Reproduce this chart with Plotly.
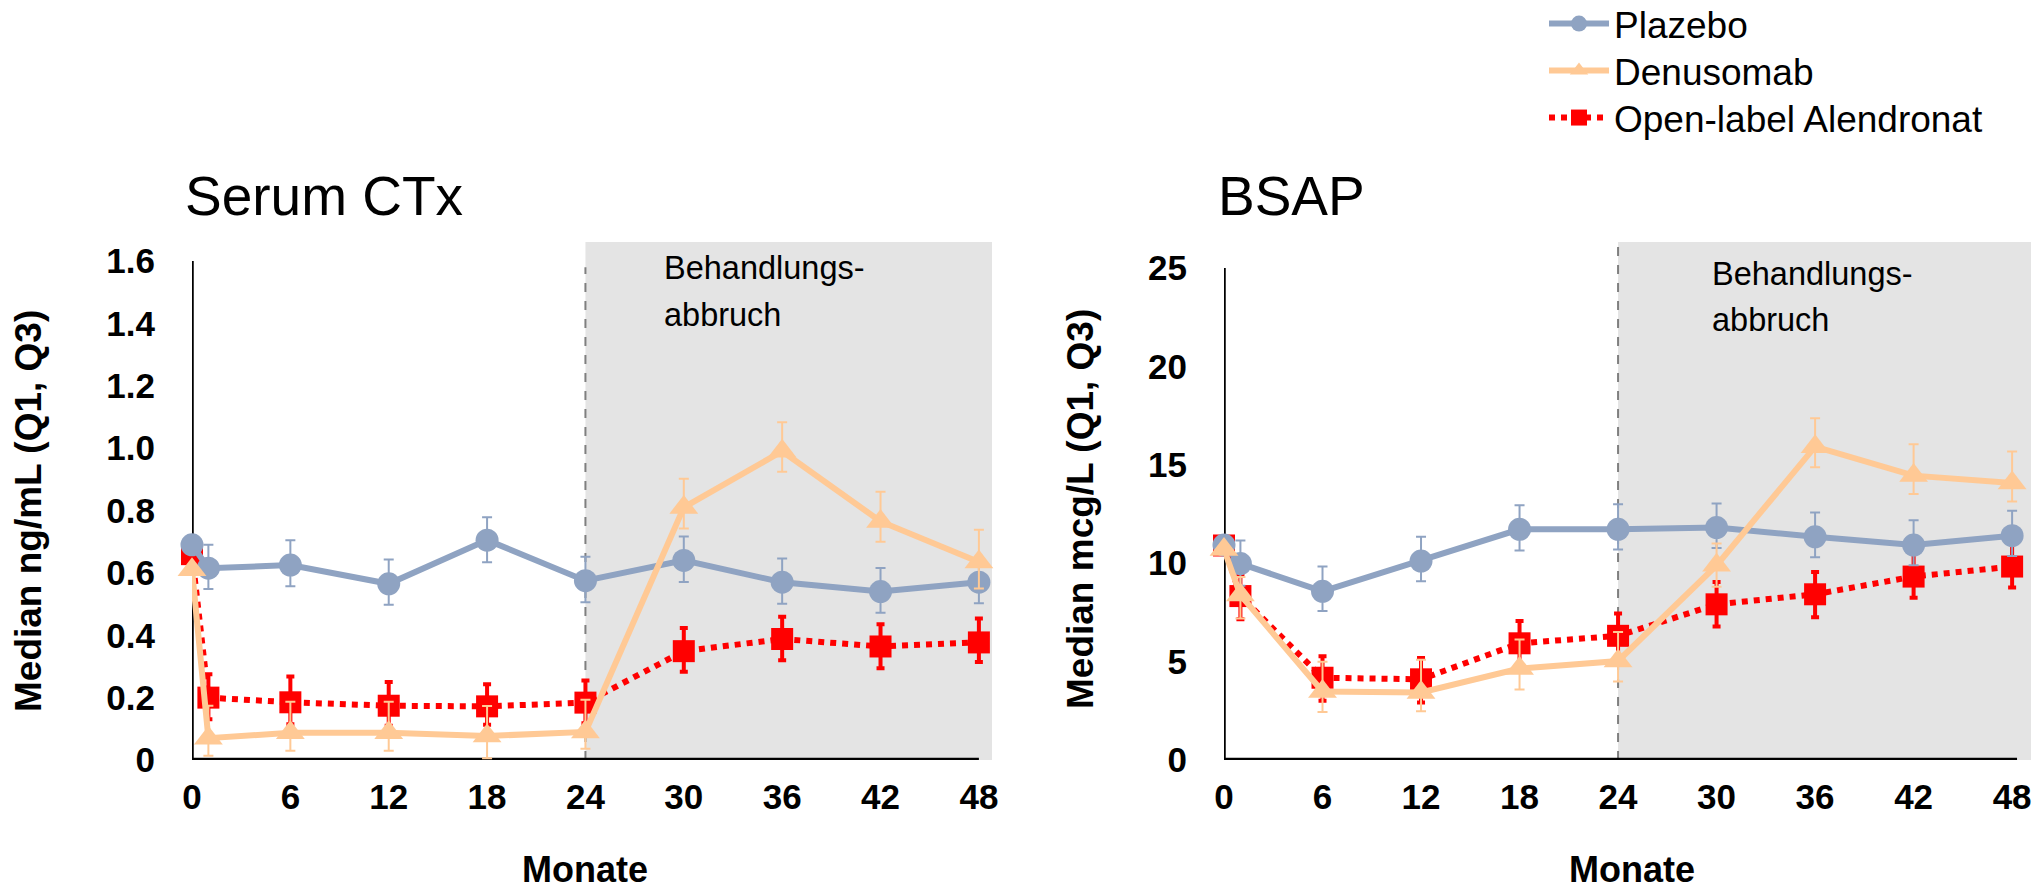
import plotly.graph_objects as go

# ---------------- data ----------------
months = [0, 1, 6, 12, 18, 24, 30, 36, 42, 48]
x_ticks = [0, 6, 12, 18, 24, 30, 36, 42, 48]

# Serum CTx (ng/mL): median, Q1, Q3
ctx_plazebo = [0.69, 0.615, 0.625, 0.565, 0.705, 0.575, 0.64, 0.57, 0.54, 0.57]
ctx_plazebo_q1 = [None, 0.548, 0.557, 0.498, 0.634, 0.506, 0.571, 0.501, 0.472, 0.503]
ctx_plazebo_q3 = [None, 0.69, 0.705, 0.643, 0.778, 0.652, 0.717, 0.646, 0.616, 0.648]

ctx_deno = [0.61, 0.07, 0.087, 0.087, 0.077, 0.09, 0.81, 0.99, 0.765, 0.635]
ctx_deno_q1 = [None, 0.014, 0.03, 0.03, 0.006, 0.036, 0.742, 0.924, 0.70, 0.55]
ctx_deno_q3 = [None, 0.174, 0.187, 0.187, 0.173, 0.193, 0.902, 1.083, 0.86, 0.738]

ctx_alen = [0.66, 0.20, 0.185, 0.174, 0.172, 0.184, 0.349, 0.388, 0.364, 0.377]
ctx_alen_q1 = [None, 0.131, 0.115, 0.11, 0.113, 0.118, 0.283, 0.32, 0.294, 0.314]
ctx_alen_q3 = [None, 0.275, 0.268, 0.25, 0.243, 0.255, 0.423, 0.459, 0.435, 0.454]

# BSAP (mcg/L): median, Q1, Q3
bsap_plazebo = [10.92, 9.98, 8.57, 10.11, 11.72, 11.72, 11.81, 11.34, 10.92, 11.4]
bsap_plazebo_q1 = [None, 8.86, 7.57, 9.08, 10.64, 10.7, 10.77, 10.3, 9.89, 10.36]
bsap_plazebo_q3 = [None, 11.15, 9.83, 11.34, 12.94, 12.99, 13.03, 12.58, 12.18, 12.66]

bsap_deno = [10.7, 8.38, 3.48, 3.43, 4.65, 5.03, 9.89, 15.92, 14.45, 14.07]
bsap_deno_q1 = [None, 7.19, 2.44, 2.48, 3.58, 3.99, 8.8, 14.88, 13.52, 13.13]
bsap_deno_q3 = [None, 9.3, 4.99, 5.09, 6.12, 6.5, 11.0, 17.37, 16.05, 15.67]

bsap_alen = [10.9, 8.33, 4.18, 4.1, 5.93, 6.31, 7.91, 8.42, 9.32, 9.83]
bsap_alen_q1 = [None, 7.15, 3.01, 2.92, 4.8, 5.18, 6.78, 7.25, 8.25, 8.76]
bsap_alen_q3 = [None, 9.42, 5.27, 5.18, 7.06, 7.44, 9.04, 9.55, 10.59, 11.02]

ctx_ticks = [0, 0.2, 0.4, 0.6, 0.8, 1.0, 1.2, 1.4, 1.6]
ctx_ticktext = ["0", "0.2", "0.4", "0.6", "0.8", "1.0", "1.2", "1.4", "1.6"]
bsap_ticks = [0, 5, 10, 15, 20, 25]
bsap_ticktext = ["0", "5", "10", "15", "20", "25"]

names = ["Plazebo", "Denusomab", "Open-label Alendronat"]
titles = ["Serum CTx", "BSAP"]
ytitles = ["Median ng/mL (Q1, Q3)", "Median mcg/L (Q1, Q3)"]
xtitle = "Monate"
stop_label = ["Behandlungs-", "abbruch"]
stop_month = 24

# ---------------- style ----------------
W, H = 2044, 896
FONT = "Liberation Sans, Arial, sans-serif"
C_BLUE = "#8FA3C2"
C_ORANGE = "#FFC995"
C_RED = "#FF0000"


def err(med, q1, q3):
    up = [0 if a is None else b - m for m, a, b in zip(med, q1, q3)]
    dn = [0 if a is None else m - a for m, a, b in zip(med, q1, q3)]
    return up, dn


fig = go.Figure()

panels = [
    ("x", "y", (ctx_plazebo, ctx_plazebo_q1, ctx_plazebo_q3),
     (ctx_deno, ctx_deno_q1, ctx_deno_q3), (ctx_alen, ctx_alen_q1, ctx_alen_q3)),
    ("x2", "y2", (bsap_plazebo, bsap_plazebo_q1, bsap_plazebo_q3),
     (bsap_deno, bsap_deno_q1, bsap_deno_q3), (bsap_alen, bsap_alen_q1, bsap_alen_q3)),
]

for i, (xa, ya, pla, den, ale) in enumerate(panels):
    show = i == 0
    up, dn = err(*ale)
    fig.add_trace(go.Scatter(
        x=months, y=ale[0], xaxis=xa, yaxis=ya, name=names[2], legend="legend3",
        showlegend=show, mode="lines+markers", cliponaxis=False,
        line=dict(color=C_RED, width=6, dash="dot"),
        marker=dict(symbol="square", size=22, color=C_RED),
        error_y=dict(type="data", symmetric=False, array=up, arrayminus=dn,
                     color=C_RED, thickness=4, width=4)))
    up, dn = err(*pla)
    fig.add_trace(go.Scatter(
        x=months, y=pla[0], xaxis=xa, yaxis=ya, name=names[0], legend="legend",
        showlegend=show, mode="lines+markers", cliponaxis=False,
        line=dict(color=C_BLUE, width=6),
        marker=dict(symbol="circle", size=23, color=C_BLUE),
        error_y=dict(type="data", symmetric=False, array=up, arrayminus=dn,
                     color=C_BLUE, thickness=2, width=5)))
    up, dn = err(*den)
    fig.add_trace(go.Scatter(
        x=months, y=den[0], xaxis=xa, yaxis=ya, name=names[1], legend="legend2",
        showlegend=show, mode="lines+markers", cliponaxis=False,
        line=dict(color=C_ORANGE, width=6),
        marker=dict(symbol="triangle-up", size=25, color=C_ORANGE),
        error_y=dict(type="data", symmetric=False, array=up, arrayminus=dn,
                     color=C_ORANGE, thickness=2, width=5)))

# domains in pixels
yd = [1 - 760 / H, 1 - 242 / H]
ctx_top = 1.6 * 518 / 499
bsap_top = 25 * 518 / 492
x1max = 48.8
x2max = 49.15

tickfont = dict(family=FONT, size=35, color="black", weight="bold")
axcommon = dict(showgrid=False, zeroline=False, showline=False, ticks="", automargin=False)

fig.update_layout(
    xaxis=dict(domain=[192 / W, 992 / W], range=[0, x1max], tickvals=x_ticks,
               ticktext=[str(v) for v in x_ticks], tickfont=tickfont, anchor="y",
               ticklabelstandoff=13, **axcommon),
    yaxis=dict(domain=yd, range=[0, ctx_top], tickvals=ctx_ticks, ticktext=ctx_ticktext,
               tickfont=tickfont, anchor="x", ticklabelstandoff=36, **axcommon),
    xaxis2=dict(domain=[1224 / W, 2031 / W], range=[0, x2max], tickvals=x_ticks,
                ticktext=[str(v) for v in x_ticks], tickfont=tickfont, anchor="y2",
                ticklabelstandoff=13, **axcommon),
    yaxis2=dict(domain=yd, range=[0, bsap_top], tickvals=bsap_ticks, ticktext=bsap_ticktext,
                tickfont=tickfont, anchor="x2", ticklabelstandoff=36, **axcommon),
)

shapes = []
for xa, ya, xmax, ytop, dash_top, yaxis_top, xline_end in [
        ("x", "y", x1max, ctx_top, 1.58, 1.6, 48.0),
        ("x2", "y2", x2max, bsap_top, bsap_top, 25, 48.3)]:
    shapes.append(dict(type="rect", xref=xa, yref=ya + " domain", x0=stop_month, x1=xmax,
                       y0=0, y1=1, fillcolor="#E4E4E4", line=dict(width=0), layer="below"))
    shapes.append(dict(type="line", xref=xa, yref=ya, x0=stop_month, x1=stop_month,
                       y0=0, y1=dash_top, line=dict(color="#7F7F7F", width=2, dash="dash"),
                       layer="below"))
    shapes.append(dict(type="line", xref=xa, yref=ya, x0=0, x1=0, y0=0, y1=yaxis_top,
                       line=dict(color="black", width=3.5), layer="below"))
    shapes.append(dict(type="line", xref=xa, yref=ya, x0=0, x1=xline_end, y0=0, y1=0,
                       line=dict(color="black", width=4.5), layer="below"))
fig.update_layout(shapes=shapes)

ann = []
# panel titles
for t, px in zip(titles, [183, 1216]):
    ann.append(dict(text=t, x=px / W, y=1 - 196 / H, xref="paper", yref="paper",
                    xanchor="left", yanchor="middle", showarrow=False,
                    font=dict(family=FONT, size=55, color="black")))
# y titles
for t, px, py in zip(ytitles, [28, 1081], [511, 509]):
    ann.append(dict(text=t, x=px / W, y=1 - py / H, xref="paper", yref="paper",
                    xanchor="center", yanchor="middle", textangle=-90, showarrow=False,
                    font=dict(family=FONT, size=37, color="black", weight="bold")))
# x titles
for px in [585, 1632]:
    ann.append(dict(text=xtitle, x=px / W, y=1 - 869 / H, xref="paper", yref="paper",
                    xanchor="center", yanchor="middle", showarrow=False,
                    font=dict(family=FONT, size=36, color="black", weight="bold")))
# treatment stop labels
for px, rows in [(662, [268, 315]), (1710, [274, 320])]:
    for line, py in zip(stop_label, rows):
        ann.append(dict(text=line, x=px / W, y=1 - py / H, xref="paper", yref="paper",
                        xanchor="left", yanchor="middle", showarrow=False,
                        font=dict(family=FONT, size=32.5, color="black")))
fig.update_layout(annotations=ann)

legend_style = dict(x=1544 / W, xanchor="left", yanchor="middle",
                    font=dict(family=FONT, size=37, color="black"),
                    bgcolor="rgba(0,0,0,0)", itemwidth=60)
fig.update_layout(
    width=W, height=H, margin=dict(l=0, r=0, t=0, b=0, autoexpand=False),
    paper_bgcolor="white", plot_bgcolor="rgba(0,0,0,0)",
    font=dict(family=FONT, color="black"),
    legend=dict(y=1 - 24 / H, **legend_style),
    legend2=dict(y=1 - 71 / H, **legend_style),
    legend3=dict(y=1 - 118 / H, **legend_style),
)

fig.write_html(
    "out.html",
    config={"displayModeBar": False},
    post_script="document.body.style.margin='0';document.body.style.overflow='hidden';",
)
